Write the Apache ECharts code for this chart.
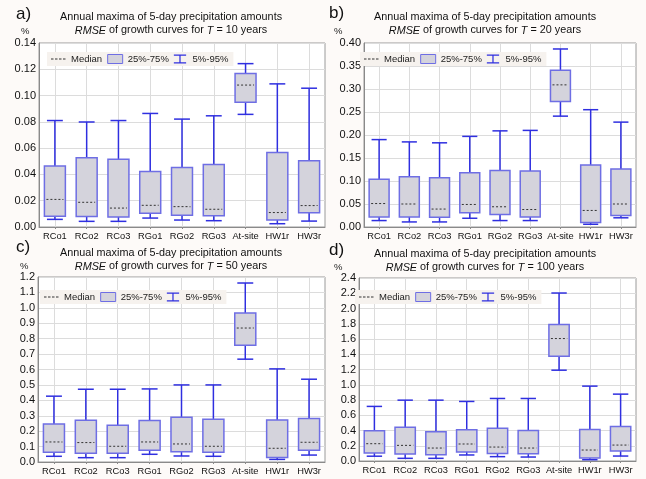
<!DOCTYPE html>
<html>
<head>
<meta charset="utf-8">
<script src="https://cdn.jsdelivr.net/npm/echarts@6/dist/echarts.min.js"></script>
<style>
  html, body { margin: 0; padding: 0; background: #fdfaf8; }
  #chart { width: 646px; height: 479px; }
</style>
</head>
<body>
<div id="chart"></div>
<script>
// stations / methods on the x axis
const categories = ["RCo1", "RCo2", "RCo3", "RGo1", "RGo2", "RGo3", "At-site", "HW1r", "HW3r"];

// each row: [5%, 25%, median, 75%, 95%]
const statsT10 = [
  [0.0058, 0.0082, 0.0210, 0.0465, 0.0810],
  [0.0043, 0.0080, 0.0188, 0.0526, 0.0799],
  [0.0043, 0.0076, 0.0144, 0.0516, 0.0810],
  [0.0068, 0.0104, 0.0165, 0.0422, 0.0864],
  [0.0053, 0.0090, 0.0155, 0.0452, 0.0821],
  [0.0048, 0.0085, 0.0135, 0.0475, 0.0846],
  [0.0857, 0.0950, 0.1080, 0.1168, 0.1243],
  [0.0025, 0.0053, 0.0110, 0.0566, 0.1089],
  [0.0045, 0.0108, 0.0163, 0.0505, 0.1056],
];
const statsT20 = [
  [0.014, 0.022, 0.051, 0.104, 0.190],
  [0.011, 0.022, 0.050, 0.109, 0.185],
  [0.011, 0.021, 0.039, 0.107, 0.183],
  [0.019, 0.031, 0.049, 0.118, 0.197],
  [0.014, 0.027, 0.044, 0.123, 0.209],
  [0.014, 0.022, 0.038, 0.122, 0.210],
  [0.241, 0.273, 0.309, 0.341, 0.387],
  [0.006, 0.010, 0.036, 0.135, 0.255],
  [0.020, 0.025, 0.050, 0.126, 0.228],
];
const statsT50 = [
  [0.037, 0.063, 0.130, 0.247, 0.427],
  [0.028, 0.056, 0.126, 0.271, 0.472],
  [0.028, 0.056, 0.102, 0.238, 0.472],
  [0.050, 0.076, 0.130, 0.269, 0.474],
  [0.039, 0.067, 0.117, 0.290, 0.500],
  [0.037, 0.063, 0.102, 0.277, 0.500],
  [0.667, 0.758, 0.869, 0.966, 1.161],
  [0.017, 0.030, 0.089, 0.273, 0.604],
  [0.045, 0.076, 0.128, 0.282, 0.537],
];
const statsT100 = [
  [0.063, 0.105, 0.227, 0.397, 0.716],
  [0.035, 0.092, 0.205, 0.441, 0.798],
  [0.035, 0.083, 0.170, 0.384, 0.798],
  [0.079, 0.118, 0.223, 0.410, 0.781],
  [0.057, 0.100, 0.183, 0.428, 0.820],
  [0.052, 0.096, 0.170, 0.401, 0.820],
  [1.191, 1.374, 1.606, 1.789, 2.203],
  [0.017, 0.039, 0.144, 0.414, 0.982],
  [0.065, 0.131, 0.209, 0.454, 0.877],
];

const returnPeriods = [10, 20, 50, 100];
const panelLetters = ["a)", "b)", "c)", "d)"];
const yMax = [0.14, 0.40, 1.2, 2.4];
const yStep = [0.02, 0.05, 0.1, 0.2];
const yDigits = [2, 2, 1, 1];
const allStats = [statsT10, statsT20, statsT50, statsT100];

const FONT = "Liberation Sans, Arial, sans-serif";
const WHISKER = "#2f2fe0";
const BOX_FILL = "#d4d3dc";
const BOX_EDGE = "#6e6ee4";
const MEDIAN = "#333333";

// panel placement
const grids = [
  { left: 39, right: 321, top: 43, bottom: 252 },
  { left: 364, right: 10, top: 43, bottom: 252 },
  { left: 38, right: 321, top: 277, bottom: 17 },
  { left: 359, right: 10, top: 278, bottom: 18 },
];
const titlePos = [
  { x: 171, y: 11 },
  { x: 485, y: 11 },
  { x: 171, y: 247 },
  { x: 485, y: 248 },
];
const letterPos = [
  { x: 16, y: 6 },
  { x: 329, y: 5 },
  { x: 16, y: 239 },
  { x: 329, y: 242 },
];
const percentPos = [
  { x: 21, y: 26 },
  { x: 334, y: 26 },
  { x: 20, y: 261 },
  { x: 334, y: 262 },
];
const legendPos = [
  { x: 47, y: 52 },
  { x: 360, y: 52 },
  { x: 40, y: 290 },
  { x: 355, y: 290 },
];

const renderBox = (params, api) => {
  const idx = api.value(0);
  const [cx, yP5] = api.coord([idx, api.value(1)]);
  const yQ1 = api.coord([idx, api.value(2)])[1];
  const yMed = api.coord([idx, api.value(3)])[1];
  const yQ3 = api.coord([idx, api.value(4)])[1];
  const yP95 = api.coord([idx, api.value(5)])[1];
  const band = api.size([1, 0])[0];
  const bw = band * 0.66;
  const cw = band * 0.5;
  const wStyle = { stroke: WHISKER, lineWidth: 1.5 };
  return {
    type: "group",
    children: [
      { type: "line", shape: { x1: cx, y1: yP95, x2: cx, y2: yQ3 }, style: wStyle },
      { type: "line", shape: { x1: cx, y1: yQ1, x2: cx, y2: yP5 }, style: wStyle },
      { type: "line", shape: { x1: cx - cw / 2, y1: yP95, x2: cx + cw / 2, y2: yP95 }, style: wStyle },
      { type: "line", shape: { x1: cx - cw / 2, y1: yP5, x2: cx + cw / 2, y2: yP5 }, style: wStyle },
      {
        type: "rect",
        shape: { x: cx - bw / 2, y: yQ3, width: bw, height: yQ1 - yQ3 },
        style: { fill: BOX_FILL, stroke: BOX_EDGE, lineWidth: 1.5 },
      },
      {
        type: "line",
        shape: { x1: cx - bw / 2 + 2, y1: yMed, x2: cx + bw / 2 - 2, y2: yMed },
        style: { stroke: MEDIAN, lineWidth: 1, lineDash: [2, 2] },
      },
    ],
  };
};

const titles = [];
returnPeriods.forEach((T, i) => {
  titles.push({
    text: "Annual maxima of 5-day precipitation amounts\n{i|RMSE} of growth curves for {i|T} = " + T + " years",
    left: titlePos[i].x,
    top: titlePos[i].y,
    textAlign: "center",
    padding: 0,
    textStyle: {
      fontFamily: FONT,
      fontSize: 10.8,
      fontWeight: "normal",
      color: "#111",
      lineHeight: 13,
      rich: { i: { fontFamily: FONT, fontSize: 10.8, fontStyle: "italic", color: "#111", lineHeight: 13 } },
    },
  });
  titles.push({
    text: panelLetters[i],
    left: letterPos[i].x,
    top: letterPos[i].y,
    padding: 0,
    textStyle: { fontFamily: FONT, fontSize: 17, fontWeight: "normal", color: "#111" },
  });
  titles.push({
    text: "%",
    left: percentPos[i].x,
    top: percentPos[i].y,
    padding: 0,
    textStyle: { fontFamily: FONT, fontSize: 9.5, fontWeight: "normal", color: "#222" },
  });
});

const legends = legendPos.map((p) => ({
  left: p.x,
  top: p.y,
  orient: "horizontal",
  selectedMode: false,
  backgroundColor: "#f6f2ee",
  padding: [2, 5, 2, 4],
  itemGap: 5,
  itemWidth: 15,
  itemHeight: 9,
  textStyle: { fontFamily: FONT, fontSize: 9.5, color: "#222" },
  data: [
    {
      name: "Median",
      icon: "path://M0,0M15,9M0,4h2.5v1h-2.5zM4,4h2.5v1h-2.5zM8,4h2.5v1h-2.5zM12,4h2.5v1h-2.5z",
      itemStyle: { color: MEDIAN, borderWidth: 0 },
    },
    {
      name: "25%-75%",
      icon: "rect",
      itemStyle: { color: BOX_FILL, borderColor: BOX_EDGE, borderWidth: 1 },
    },
    {
      name: "5%-95%",
      icon: "path://M0,0h15v1.5h-15zM0,9.5h15v1.5h-15zM6.75,1.5h1.5v8h-1.5z",
      itemStyle: { color: WHISKER, borderWidth: 0 },
    },
  ],
}));

const series = allStats.map((stats, i) => ({
  type: "custom",
  name: "box" + i,
  xAxisIndex: i,
  yAxisIndex: i,
  renderItem: renderBox,
  encode: { x: 0, y: [1, 2, 3, 4, 5] },
  data: stats.map((row, k) => [k].concat(row)),
  silent: true,
}));
// legend-only entries
[["Median", MEDIAN], ["25%-75%", BOX_FILL], ["5%-95%", WHISKER]].forEach(([name, color]) => {
  series.push({
    type: "custom",
    name: name,
    xAxisIndex: 0,
    yAxisIndex: 0,
    renderItem: () => null,
    itemStyle: { color: color },
    data: [],
  });
});

const chart = echarts.init(document.getElementById("chart"), null, { renderer: "canvas" });
chart.setOption({
  backgroundColor: "#fdfaf8",
  animation: false,
  title: titles,
  legend: legends,
  grid: grids.map((g) => ({
    left: g.left,
    right: g.right,
    top: g.top,
    bottom: g.bottom,
    show: true,
    backgroundColor: "#ffffff",
    borderColor: "#9a9a9a",
    borderWidth: 1,
  })),
  xAxis: grids.map((g, i) => ({
    type: "category",
    gridIndex: i,
    data: categories,
    axisLine: { lineStyle: { color: "#8a8a8a" } },
    axisTick: { show: true, alignWithLabel: true, length: 2, lineStyle: { color: "#8a8a8a" } },
    axisLabel: { fontFamily: FONT, fontSize: 9.3, color: "#111", margin: 5, interval: 0 },
    splitLine: { show: true, alignWithLabel: true, lineStyle: { color: "#dcdcdc" } },
  })),
  yAxis: grids.map((g, i) => ({
    type: "value",
    gridIndex: i,
    min: 0,
    max: yMax[i],
    interval: yStep[i],
    axisLine: { show: true, lineStyle: { color: "#8a8a8a" } },
    axisTick: { show: false },
    axisLabel: {
      fontFamily: FONT,
      fontSize: 11,
      color: "#111",
      margin: 3,
      formatter: (v) => v.toFixed(yDigits[i]),
    },
    splitLine: { show: true, lineStyle: { color: "#dcdcdc" } },
  })),
  series: series,
});
</script>
</body>
</html>
